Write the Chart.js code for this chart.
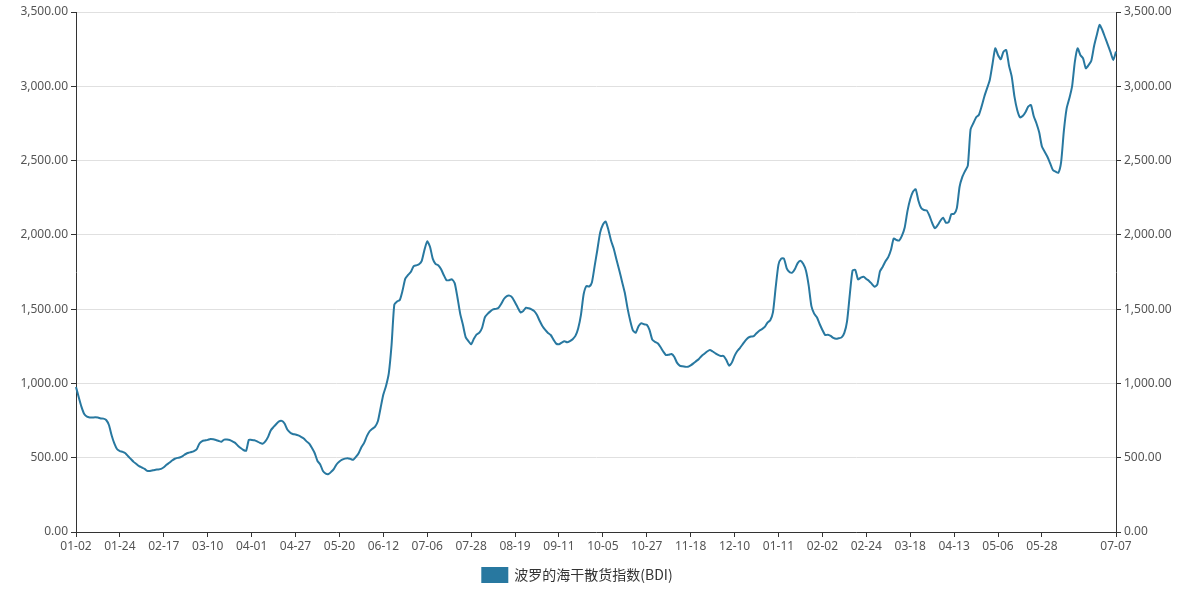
<!DOCTYPE html>
<html><head><meta charset="utf-8">
<script src="https://cdn.jsdelivr.net/npm/chart.js@4.4.0/dist/chart.umd.min.js"></script>
<style>html,body{margin:0;padding:0;background:#fff;}#wrap{width:1181px;height:589px;position:relative}</style>
</head><body><div id="wrap"><canvas id="c" width="1181" height="589"></canvas></div>
<script>
// ---- data ----
const seriesName = '波罗的海干散货指数(BDI)';
const startDate = '2020-01-02';
const endDate = '2021-07-07';
const nonTradingDays = ['2020-01-01','2020-04-10','2020-04-13','2020-05-08','2020-05-25','2020-08-31',
  '2020-12-24','2020-12-25','2020-12-28','2020-12-31','2021-01-01','2021-01-04',
  '2021-04-02','2021-04-05','2021-05-03','2021-05-31'];
const bdi2020 = [
 976,907,842,794,776,771,771,772,770,764,
 763,754,720,650,595,557,545,539,530,510,
 491,472,458,443,434,425,411,411,415,419,
 421,425,436,452,466,481,493,499,503,513,
 525,533,538,545,557,596,612,616,620,626,
 624,619,613,608,622,622,619,610,600,581,
 565,552,547,621,620,618,610,600,594,610,
 640,685,707,727,745,748,730,690,670,660,
 656,650,641,630,610,595,565,530,478,455,
 410,393,390,405,425,456,475,487,494,497,
 492,486,505,530,570,600,645,678,695,709,
 745,835,925,985,1070,1260,1530,1552,1562,1625,
 1705,1730,1750,1788,1795,1802,1825,1900,1956,1920,
 1840,1805,1795,1770,1730,1695,1695,1701,1675,1580,
 1470,1395,1312,1285,1263,1300,1330,1342,1375,1445,
 1468,1485,1498,1502,1510,1537,1570,1588,1591,1578,
 1545,1510,1478,1488,1510,1506,1499,1487,1460,1420,
 1385,1360,1340,1326,1295,1268,1264,1275,1284,1277,
 1285,1298,1320,1370,1460,1600,1656,1652,1680,1790,
 1900,2015,2068,2090,2035,1960,1905,1830,1760,1685,
 1610,1505,1420,1355,1342,1385,1405,1398,1395,1360,
 1295,1280,1270,1245,1215,1191,1193,1198,1180,1140,
 1120,1115,1112,1112,1122,1135,1150,1165,1185,1200,
 1215,1225,1215,1203,1192,1185,1185,1158,1120,1140,
 1185,1218,1240,1265,1290,1308,1316,1318,1338,1355,
 1365,1380];
const bdi2021 = [
 1410,1425,1480,1650,1800,1840,1840,1775,
 1750,1745,1770,1810,1826,1805,1760,1660,1520,1470,
 1445,1400,1360,1326,1328,1320,1306,1300,1304,1310,
 1340,1420,1600,1760,1764,1700,1712,1718,1703,1690,
 1670,1651,1665,1755,1786,1822,1850,1900,1975,1965,
 1962,1995,2050,2160,2240,2290,2307,2230,2180,2167,
 2165,2130,2080,2045,2065,2095,2116,2082,2085,2140,
 2141,2180,2324,2390,2430,2466,2710,2751,2790,2807,
 2863,2930,2986,3042,3150,3256,3211,3182,3233,3244,
 3140,3065,2930,2840,2791,2800,2825,2863,2874,2800,
 2751,2690,2595,2560,2526,2482,2437,2425,2418,2490,
 2700,2850,2919,3000,3165,3256,3211,3188,3121,3143,
 3172,3270,3345,3413,3379,3330,3280,3230,3177,3233];
const yMin = 0, yMax = 3500, yStep = 500;
const labelEvery = 16, lastRegularLabel = 352;

// ---- categories: trading days ----
function tradingDays(s, e, skip) {
  const out = [];
  const d = new Date(s + 'T00:00:00Z'), end = new Date(e + 'T00:00:00Z');
  while (d <= end) {
    const iso = d.toISOString().slice(0, 10);
    const wd = d.getUTCDay();
    if (wd !== 0 && wd !== 6 && !skip.includes(iso)) out.push(iso.slice(5));
    d.setUTCDate(d.getUTCDate() + 1);
  }
  return out;
}
const categories = tradingDays(startDate, endDate, nonTradingDays);
const bdi = bdi2020.concat(bdi2021);

// ---- chart ----
const FONT = '"Noto Sans", "Noto Sans CJK SC", sans-serif';
const LINE = '#2878a0';
const TXT = '#555';
const AX = '#333';
const fmt = v => Number(v).toLocaleString('en-US', {minimumFractionDigits: 2, maximumFractionDigits: 2});
const last = categories.length - 1;

const legendShift = {
  id: 'legendShift',
  afterLayout(chart) {
    const lg = chart.legend;
    if (lg) { lg.left -= 13; lg.right -= 13; lg.top += 3; lg.bottom += 3; }
  }
};

new Chart(document.getElementById('c'), {
  type: 'line',
  plugins: [legendShift],
  data: {
    labels: categories,
    datasets: [{
      label: seriesName, data: bdi,
      borderColor: LINE, backgroundColor: LINE, borderWidth: 2,
      pointRadius: 0, pointHoverRadius: 0, tension: 0.2, fill: false
    }]
  },
  options: {
    responsive: false, animation: false,
    layout: {padding: {top: 12, left: 0, right: 0, bottom: 0}},
    plugins: {
      tooltip: {enabled: false},
      legend: {
        position: 'bottom',
        labels: {boxWidth: 25, boxHeight: 14, color: '#333', padding: 8,
                 font: {family: '"Noto Sans CJK SC", "Noto Sans", sans-serif', size: 14}}
      }
    },
    scales: {
      x: {
        type: 'category', offset: false,
        grid: {drawOnChartArea: false, drawTicks: true, tickLength: 5, tickColor: AX},
        border: {color: AX, width: 1},
        ticks: {
          autoSkip: false, maxRotation: 0, minRotation: 0, color: TXT, padding: 2,
          font: {family: FONT, size: 12},
          callback: function(v, i) {
            if ((i % labelEvery === 0 && i <= lastRegularLabel) || i === last) return this.getLabelForValue(v);
            return null;
          }
        },
        afterFit: s => { s.height = 25; }
      },
      y: {
        position: 'left', min: yMin, max: yMax,
        ticks: {stepSize: yStep, color: TXT, padding: 3, font: {family: FONT, size: 12}, callback: fmt},
        grid: {color: '#e0e0e0', tickColor: AX, tickLength: 5},
        border: {color: AX, width: 1},
        afterFit: s => { s.width = 76; }
      },
      y1: {
        position: 'right', min: yMin, max: yMax,
        ticks: {stepSize: yStep, color: TXT, padding: 3, font: {family: FONT, size: 12}, callback: fmt},
        grid: {drawOnChartArea: false, tickColor: AX, tickLength: 5},
        border: {color: AX, width: 1},
        afterFit: s => { s.width = 65; }
      }
    }
  }
});
</script></body></html>
